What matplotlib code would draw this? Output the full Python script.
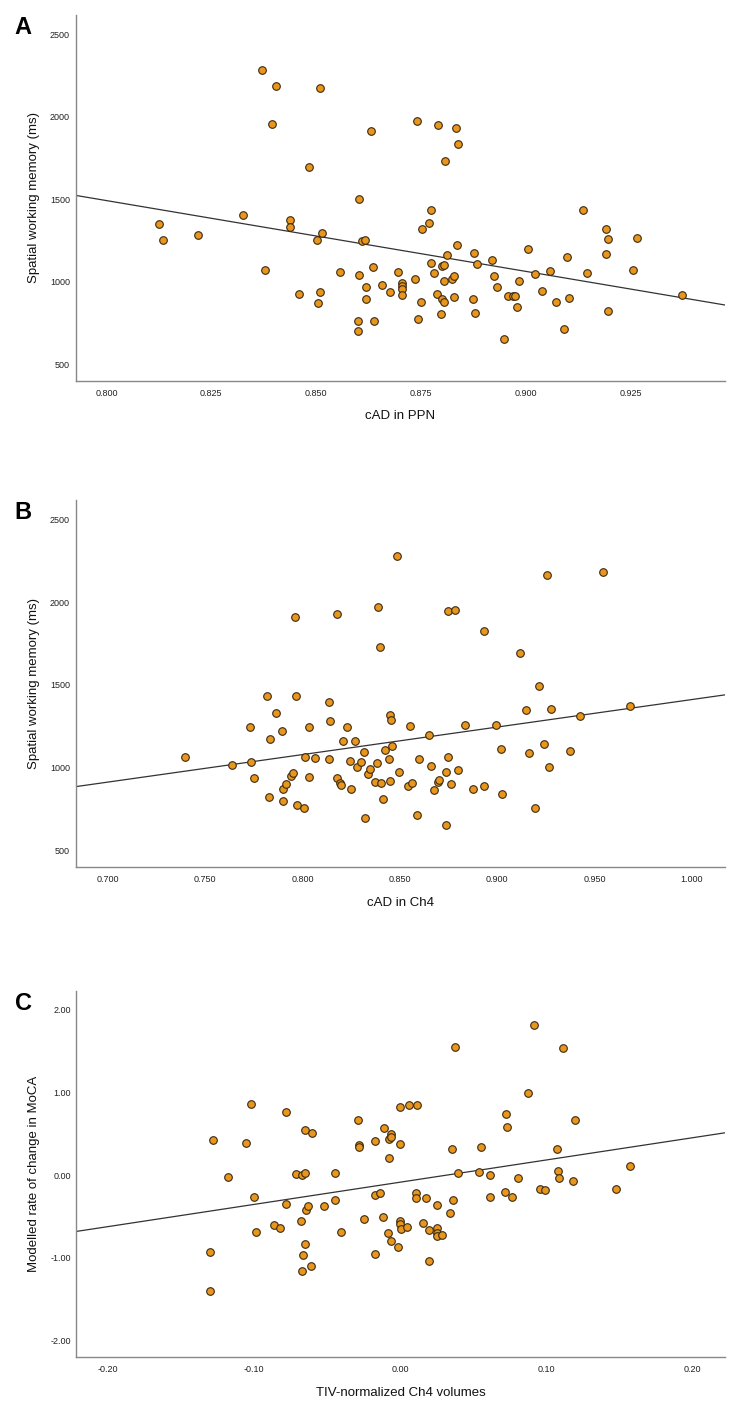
import matplotlib
matplotlib.use("Agg")
import matplotlib.pyplot as plt
import numpy as np

plt.rcParams['font.family'] = ['Liberation Sans', 'DejaVu Sans']

# Panel A: cAD in PPN vs spatial working memory
ppn_x = [0.8126, 0.8134, 0.8219, 0.8326, 0.8370, 0.8377, 0.8394, 0.8404, 0.8437, 0.8437,
         0.8459, 0.8483, 0.8502, 0.8508, 0.8513, 0.8508, 0.8504, 0.8557, 0.8602, 0.8603,
         0.8599, 0.8599, 0.8610, 0.8616, 0.8619, 0.8618, 0.8631, 0.8635, 0.8638, 0.8658,
         0.8675, 0.8696, 0.8704, 0.8704, 0.8704, 0.8704, 0.8735, 0.8740, 0.8743, 0.8750,
         0.8752, 0.8770, 0.8774, 0.8774, 0.8780, 0.8789, 0.8790, 0.8797, 0.8800, 0.8805,
         0.8800, 0.8806, 0.8807, 0.8806, 0.8812, 0.8824, 0.8830, 0.8829, 0.8833, 0.8835,
         0.8838, 0.8876, 0.8875, 0.8879, 0.8883, 0.8919, 0.8925, 0.8931, 0.8949, 0.8957,
         0.8970, 0.8974, 0.8978, 0.8984, 0.9005, 0.9023, 0.9039, 0.9057, 0.9073, 0.9091,
         0.9098, 0.9104, 0.9136, 0.9147, 0.9192, 0.9196, 0.9192, 0.9197, 0.9255, 0.9265,
         0.9373]
ppn_y = [1351, 1250, 1283, 1404, 2281, 1068, 1956, 2184, 1376, 1331,
         923, 1695, 1250, 2172, 1293, 938, 869, 1056, 1501, 1038,
         764, 699, 1247, 1250, 968, 897, 1915, 1089, 759, 978,
         938, 1059, 992, 976, 956, 917, 1018, 1976, 776, 877,
         1321, 1358, 1436, 1115, 1053, 927, 1951, 802, 1097, 1101,
         893, 875, 1733, 1004, 1164, 1016, 1032, 907, 1933, 1224,
         1832, 1174, 893, 810, 1105, 1129, 1036, 965, 655, 911,
         913, 913, 847, 1006, 1200, 1044, 945, 1065, 875, 715,
         1150, 903, 1436, 1055, 1317, 1261, 1165, 822, 1071, 1262,
         917]

# Panel B: cAD in Ch4 vs spatial working memory
ch4_x = [0.7395, 0.7636, 0.7728, 0.7735, 0.7748, 0.7815, 0.7828, 0.7832, 0.7861, 0.7892,
         0.7897, 0.7899, 0.7916, 0.7940, 0.7951, 0.7959, 0.7967, 0.7969, 0.8006, 0.8011,
         0.8033, 0.8035, 0.8064, 0.8138, 0.8140, 0.8138, 0.8177, 0.8177, 0.8192, 0.8197,
         0.8206, 0.8230, 0.8242, 0.8249, 0.8269, 0.8279, 0.8298, 0.8315, 0.8322, 0.8334,
         0.8345, 0.8389, 0.8399, 0.8380, 0.8370, 0.8405, 0.8413, 0.8421, 0.8442, 0.8447,
         0.8456, 0.8449, 0.8459, 0.8487, 0.8493, 0.8539, 0.8560, 0.8551, 0.8589, 0.8597,
         0.8647, 0.8657, 0.8673, 0.8697, 0.8703, 0.8736, 0.8739, 0.8746, 0.8784, 0.8748,
         0.8761, 0.8796, 0.8835, 0.8876, 0.8934, 0.8934, 0.8992, 0.9018, 0.9025, 0.9115,
         0.9146, 0.9163, 0.9194, 0.9216, 0.9240, 0.9255, 0.9267, 0.9274, 0.9373, 0.9423,
         0.9543, 0.9679]
ch4_y = [1062, 1014, 1246, 1034, 934, 1433, 819, 1171, 1328, 1222,
         871, 799, 899, 950, 964, 1910, 1433, 775, 756, 1066,
         1244, 944, 1056, 1399, 1280, 1050, 1929, 935, 909, 895,
         1161, 1246, 1040, 869, 1163, 1002, 1032, 1092, 696, 960,
         990, 1971, 1729, 1028, 914, 908, 807, 1103, 1052, 1318,
         1288, 920, 1127, 2277, 974, 889, 909, 1248, 712, 1054,
         1198, 1010, 865, 915, 926, 651, 970, 1949, 1950, 1066,
         903, 984, 1258, 871, 1826, 889, 1256, 1111, 841, 1691,
         1346, 1085, 758, 1495, 1145, 2166, 1002, 1352, 1097, 1314,
         2180, 1370]

# Panel C: TIV-normalized Ch4 volume vs MoCA change
vol_x = [-0.1306, -0.1306, -0.1281, -0.1178, -0.1060, -0.1023, -0.1005, -0.0989, -0.0862, -0.0825,
         -0.0784, -0.0780, -0.0713, -0.0677, -0.0674, -0.0672, -0.0654, -0.0663, -0.0654, -0.0650,
         -0.0645, -0.0633, -0.0613, -0.0606, -0.0524, -0.0449, -0.0447, -0.0408, -0.0291, -0.0282,
         -0.0282, -0.0248, -0.0175, -0.0173, -0.0137, -0.0173, -0.0120, -0.0109, -0.0079, -0.0082,
         -0.0075, -0.0064, -0.0062, -0.0062, -0.0014, -0.0002, 0.0000, -0.0002, 0.0000, 0.0007,
         0.0048, 0.0057, 0.0109, 0.0109, 0.0116, 0.0157, 0.0178, 0.0196, 0.0196, 0.0249,
         0.0249, 0.0251, 0.0253, 0.0287, 0.0342, 0.0351, 0.0362, 0.0376, 0.0397, 0.0538,
         0.0552, 0.0615, 0.0615, 0.0716, 0.0727, 0.0730, 0.0764, 0.0809, 0.0875, 0.0914,
         0.0960, 0.0991, 0.1074, 0.1080, 0.1085, 0.1112, 0.1181, 0.1197, 0.1477, 0.1573]
moca_y = [-0.932, -1.408, 0.420, -0.024, 0.383, 0.855, -0.266, -0.694, -0.601, -0.645,
          -0.351, 0.762, 0.008, -0.560, -1.162, -0.004, 0.021, -0.968, 0.541, -0.831,
          -0.428, -0.379, -1.097, 0.512, -0.379, 0.028, -0.302, -0.686, 0.669, 0.367,
          0.335, -0.528, 0.415, -0.242, -0.222, -0.952, -0.512, 0.565, 0.209, -0.706,
          0.432, 0.496, 0.464, -0.802, -0.875, 0.379, 0.827, -0.553, -0.593, -0.657,
          -0.633, 0.847, -0.218, -0.282, 0.843, -0.585, -0.282, -0.661, -1.045, -0.637,
          -0.702, -0.734, -0.359, -0.730, -0.464, 0.311, -0.302, 1.549, 0.024, 0.036,
          0.335, -0.004, -0.270, -0.210, 0.734, 0.577, -0.270, -0.032, 0.996, 1.811,
          -0.169, -0.185, 0.315, 0.048, -0.032, 1.540, -0.073, 0.669, -0.165, 0.105]

panels = [
    ("A", ppn_x, ppn_y, (0.7926, 0.9476), (400, 2617),
     [0.800, 0.825, 0.850, 0.875, 0.900, 0.925], [500, 1000, 1500, 2000, 2500],
     "{:.3f}", "{:.0f}", "cAD in PPN", "Spatial working memory (ms)"),
    ("B", ch4_x, ch4_y, (0.6834, 1.0171), (400, 2617),
     [0.700, 0.750, 0.800, 0.850, 0.900, 0.950, 1.000], [500, 1000, 1500, 2000, 2500],
     "{:.3f}", "{:.0f}", "cAD in Ch4", "Spatial working memory (ms)"),
    ("C", vol_x, moca_y, (-0.2219, 0.2226), (-2.202, 2.23),
     [-0.20, -0.10, 0.00, 0.10, 0.20], [-2.0, -1.0, 0.0, 1.0, 2.0],
     "{:.2f}", "{:.2f}", "TIV-normalized Ch4 volumes", "Modelled rate of change in MoCA"),
]

# axes boxes in figure fractions [left, bottom, width, height]
boxes = [[0.1018, 0.7306, 0.8757, 0.2588],
         [0.1018, 0.3866, 0.8757, 0.2595],
         [0.1028, 0.0396, 0.8747, 0.2593]]

fig = plt.figure(figsize=(7.42, 14.13), dpi=100)

for (letter, xs, ys, xlim, ylim, xt, yt, xfmt, yfmt, xlab, ylab), box in zip(panels, boxes):
    ax = fig.add_axes(box)
    ax.scatter(xs, ys, s=30, color="#E8961C", edgecolor="#3B2A12", linewidth=0.8, zorder=3)

    # least squares fit line across the whole x range
    k, b = np.polyfit(xs, ys, 1)
    xx = np.array(xlim)
    ax.plot(xx, k * xx + b, color="#333333", linewidth=0.9, zorder=2)

    ax.set_xlim(xlim)
    ax.set_ylim(ylim)
    ax.set_xticks(xt)
    ax.set_yticks(yt)
    ax.set_xticklabels([xfmt.format(v) for v in xt])
    ax.set_yticklabels([yfmt.format(v) for v in yt])
    ax.tick_params(length=0, labelsize=6.5, labelcolor="#222222")
    ax.tick_params(axis="x", pad=6)
    ax.tick_params(axis="y", pad=4)
    for side in ["top", "right"]:
        ax.spines[side].set_visible(False)
    for side in ["left", "bottom"]:
        ax.spines[side].set_color("#888888")
        ax.spines[side].set_linewidth(1.0)

    ax.set_xlabel(xlab, fontsize=9.5, color="#111111", labelpad=9)
    ax.set_ylabel(ylab, fontsize=9.5, color="#111111", labelpad=7)

    top = box[1] + box[3]
    fig.text(0.031, top - 0.009, letter, fontsize=17, fontweight="bold", ha="center", va="center")

fig.savefig("out.png", dpi=100)
